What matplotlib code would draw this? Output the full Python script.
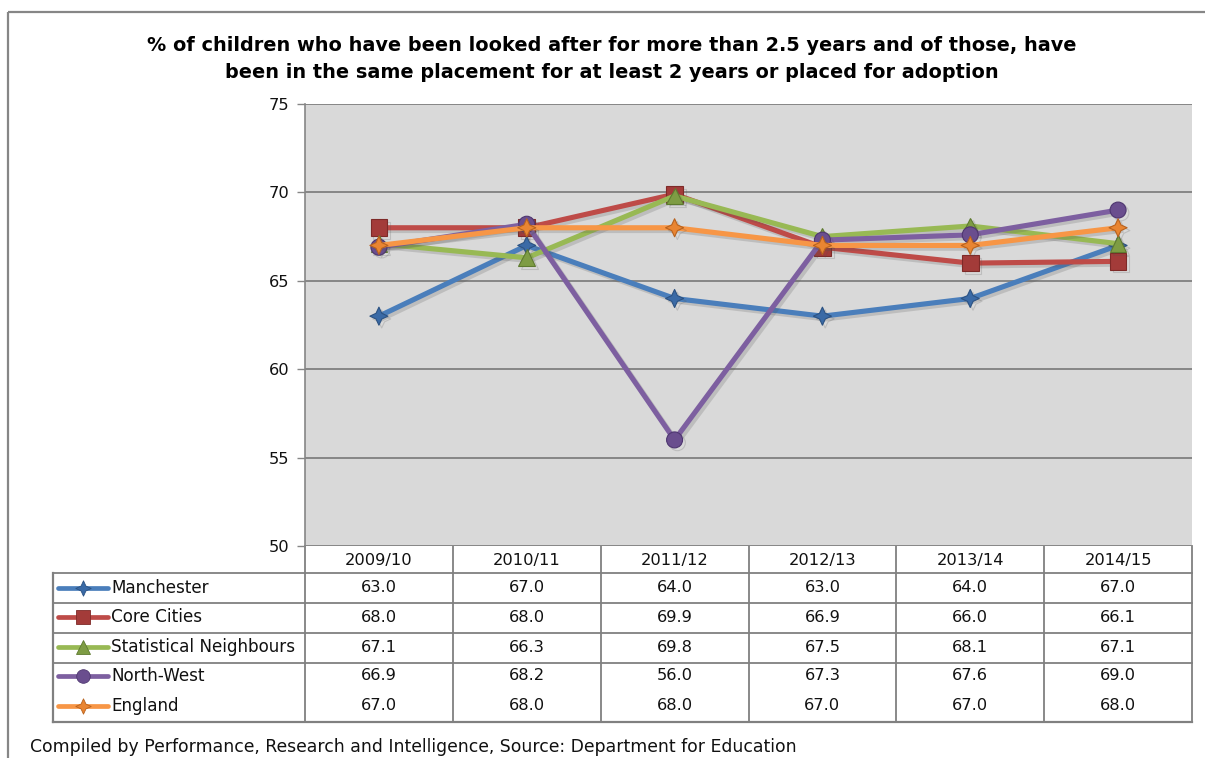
import matplotlib
matplotlib.use("Agg")
import matplotlib.pyplot as plt
import matplotlib.patheffects as pe
from matplotlib.path import Path
import numpy as np

plt.rcParams['font.family'] = ['DejaVu Sans']

years = ["2009/10", "2010/11", "2011/12", "2012/13", "2013/14", "2014/15"]
series_names = ["Manchester", "Core Cities", "Statistical Neighbours", "North-West", "England"]
manchester = [63.0, 67.0, 64.0, 63.0, 64.0, 67.0]
core_cities = [68.0, 68.0, 69.9, 66.9, 66.0, 66.1]
stat_neighbours = [67.1, 66.3, 69.8, 67.5, 68.1, 67.1]
north_west = [66.9, 68.2, 56.0, 67.3, 67.6, 69.0]
england = [67.0, 68.0, 68.0, 67.0, 67.0, 68.0]
y_ticks = [50, 55, 60, 65, 70, 75]

title = ("% of children who have been looked after for more than 2.5 years and of those, have\n"
         "been in the same placement for at least 2 years or placed for adoption")
footer = "Compiled by Performance, Research and Intelligence, Source: Department for Education"

all_series = [manchester, core_cities, stat_neighbours, north_west, england]
line_colors = ["#4A7EBB", "#BE4B48", "#98B954", "#7D5FA0", "#F79646"]
face_colors = ["#3A6AA6", "#A33B39", "#7E9C44", "#6A4E8E", "#E98532"]
edge_colors = ["#2C5282", "#7E2A28", "#5E7A30", "#4E3670", "#B8621E"]

# four-pointed star marker used for the diamond-style series
t = np.linspace(0, 2 * np.pi, 9)[:-1]
r = np.array([1.0, 0.45] * 4)
star_verts = np.column_stack([r * np.sin(t), r * np.cos(t)])
star_verts = np.vstack([star_verts, star_verts[:1]])
star = Path(star_verts, [Path.MOVETO] + [Path.LINETO] * 7 + [Path.CLOSEPOLY])
markers = [star, "s", "^", "o", star]
msizes = [13, 12, 12, 11.5, 13]

FS = 11.7
txt = "#111111"

W, H = 1205, 758
fig = plt.figure(figsize=(W / 100, H / 100), dpi=100)

# full-figure overlay in pixel coordinates for frame, table and text
ov = fig.add_axes([0, 0, 1, 1])
ov.set_xlim(0, W)
ov.set_ylim(H, 0)
ov.axis("off")

grey = "#868686"
ov.plot([8, 8], [12, H], color=grey, lw=1.6, solid_capstyle="butt")
ov.plot([8, W], [12, 12], color=grey, lw=1.6, solid_capstyle="butt")

ov.text(612, 59, title, ha="center", va="center", fontsize=13.9, fontweight="bold",
        linespacing=1.5, color="#000000")

# plot area
px0, px1, py0, py1 = 305, 1192, 104, 546
ax = fig.add_axes([px0 / W, 1 - py1 / H, (px1 - px0) / W, (py1 - py0) / H])
ax.set_facecolor("#D9D9D9")
ax.set_xlim(0, len(years))
ax.set_ylim(50, 75)
ax.set_yticks(y_ticks)
ax.set_yticklabels([str(v) for v in y_ticks], fontsize=FS, color=txt)
ax.set_xticks([])
ax.tick_params(axis="y", length=6, width=1, color=grey, pad=5)
ax.grid(axis="y", color=grey, lw=1.4)
ax.set_axisbelow(True)
for side in ["top", "right"]:
    ax.spines[side].set_visible(False)
ax.spines["bottom"].set_visible(False)
ax.spines["left"].set_color(grey)
ax.spines["left"].set_linewidth(1.2)

xs = np.arange(len(years)) + 0.5
shadow = [pe.SimpleLineShadow(offset=(2, -2), shadow_color="#505050", alpha=0.2), pe.Normal()]
for i, vals in enumerate(all_series):
    ax.plot(xs, vals, color=line_colors[i], lw=3.7, marker=markers[i], ms=msizes[i],
            mfc=face_colors[i], mec=edge_colors[i], mew=0.8, zorder=3 + i,
            path_effects=shadow, solid_joinstyle="round")

# data table under the chart
col_w = (px1 - px0) / len(years)
leg_x0 = 53
row_top = 546
row_tops = [573, 603, 633, 663, 692]
table_bot = 722
tc = "#808080"

ov.plot([px0, px0], [row_top, table_bot], color=tc, lw=1.3)
for k in range(1, len(years) + 1):
    x = px0 + k * col_w
    ov.plot([x, x], [row_top, table_bot], color=tc, lw=1.3)
ov.plot([leg_x0, leg_x0], [row_tops[0], table_bot], color=tc, lw=1.6)
for yline in row_tops[:4]:
    ov.plot([leg_x0, px1], [yline, yline], color=tc, lw=1.3)
ov.plot([leg_x0, px1], [table_bot, table_bot], color=tc, lw=1.6)

for k, yr in enumerate(years):
    ov.text(px0 + (k + 0.5) * col_w, row_top + 14, yr, ha="center", va="center",
            fontsize=FS, color=txt)

row_centers = [588, 617, 647, 676, 706]
for i, name in enumerate(series_names):
    yc = row_centers[i]
    ov.plot([58, 108], [yc, yc], color=line_colors[i], lw=3.4, solid_capstyle="round")
    ov.plot([83], [yc], marker=markers[i], ms=msizes[i] * 0.85, mfc=face_colors[i],
            mec=edge_colors[i], mew=0.6, ls="none")
    ov.text(111, yc, name, ha="left", va="center", fontsize=12.1, color=txt)
    for k, v in enumerate(all_series[i]):
        ov.text(px0 + (k + 0.5) * col_w, yc, f"{v:.1f}", ha="center", va="center",
                fontsize=FS, color=txt)

ov.text(30, 747, footer, ha="left", va="center", fontsize=12.4, color=txt)

fig.savefig("out.png", dpi=100)
